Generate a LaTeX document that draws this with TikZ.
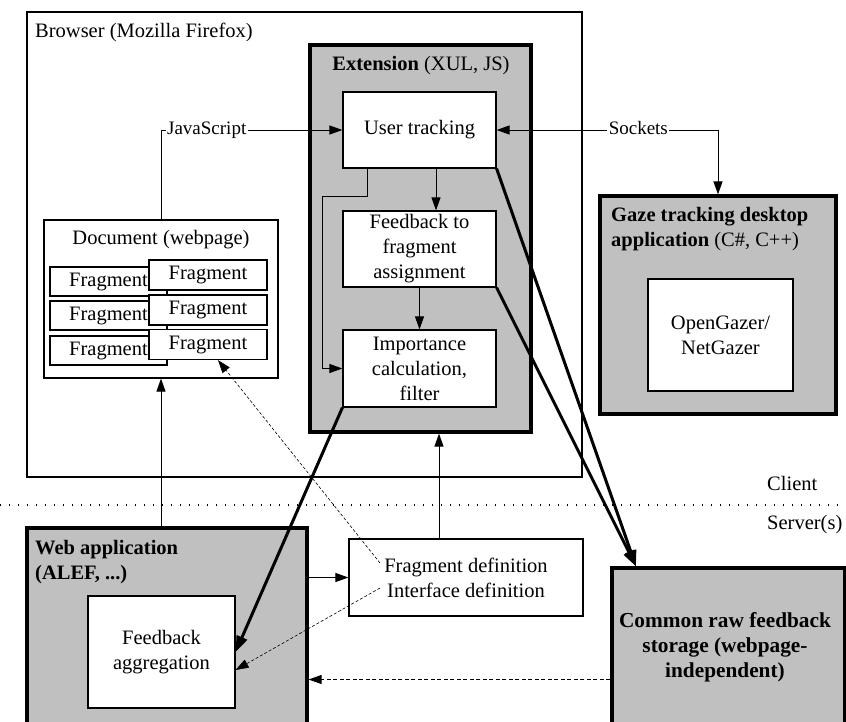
\documentclass[tikz,border=0pt]{standalone}
\usepackage{fontspec}
\setmainfont{Liberation Serif}
\usetikzlibrary{arrows.meta,calc}
\definecolor{boxgray}{HTML}{C0C0C0}
\tikzset{
  base/.style={font=\fontsize{20.5}{25}\selectfont, inner sep=0pt, align=center},
  thinbox/.style={base, draw, line width=1.2pt, fill=white},
  group/.style={base, draw, line width=3.2pt, fill=boxgray},
  conn/.style={line width=1pt, -{Triangle[length=13pt,width=9pt]}},
  dconn/.style={line width=0.8pt, dash pattern=on 4pt off 2.5pt, -{Triangle[length=13pt,width=9pt]}},
  heavy/.style={line width=3pt, -{Triangle[length=16pt,width=11pt]}},
  tag/.style={base, fill=white, inner sep=1.5pt, font=\fontsize{19}{23}\selectfont},
}
\begin{document}
\begin{tikzpicture}[x=1pt, y=-1pt]
  \clip (0,0) rectangle (846,721);
  \fill[white] (0,0) rectangle (846,721);

  % client / server separator
  \draw[line width=1.2pt, dash pattern=on 1.2pt off 7.8pt] (0,505) -- (846,505);
  \node[base, anchor=west] (client) at (767,483) {Client};
  \node[base, anchor=west] (server) at (767,525) {Server(s)};

  % browser frame
  \node[base, draw, line width=1.2pt, minimum width=555pt, minimum height=465pt] (browser) at (304.5,244.5) {};
  \node[base, anchor=west] (browserlbl) at (35,32) {Browser (Mozilla Firefox)};

  % extension
  \node[group, minimum width=221pt, minimum height=387pt] (ext) at (420.5,238.5) {};
  \node[base] (extlbl) at (421,66) {\textbf{Extension} (XUL, JS)};
  \node[thinbox, minimum width=153pt, minimum height=76pt] (ut) at (419.5,130) {User tracking};
  \node[thinbox, minimum width=153pt, minimum height=76pt] (fb) at (419.5,249) {Feedback to\\fragment\\assignment};
  \node[thinbox, minimum width=153pt, minimum height=77pt] (imp) at (419.5,368.5) {Importance\\calculation,\\filter};

  % document with fragments
  \node[thinbox, minimum width=234pt, minimum height=158pt] (doc) at (161,299) {};
  \node[base] (doclbl) at (161,240) {Document (webpage)};
  \node[thinbox, minimum width=117pt, minimum height=29pt] (fl1) at (108.5,281.5) {Fragment};
  \node[thinbox, minimum width=117pt, minimum height=29pt] (fl2) at (108.5,315.5) {Fragment};
  \node[thinbox, minimum width=117pt, minimum height=29pt] (fl3) at (108.5,350.5) {Fragment};
  \node[thinbox, minimum width=118pt, minimum height=30pt] (fr1) at (208,275) {Fragment};
  \node[thinbox, minimum width=118pt, minimum height=30pt] (fr2) at (208,310) {Fragment};
  \node[thinbox, minimum width=118pt, minimum height=30pt] (fr3) at (208,344.5) {Fragment};

  % gaze tracking application
  \node[group, minimum width=236pt, minimum height=218pt] (gaze) at (718,305) {};
  \node[base, anchor=west, align=left] (gazelbl) at (611,229.5) {\textbf{Gaze tracking desktop}\\\textbf{application} (C\#, C++)};
  \node[thinbox, minimum width=145pt, minimum height=112pt] (og) at (720.5,335) {OpenGazer/\\NetGazer};

  % server side
  \node[group, minimum width=280pt, minimum height=207pt] (web) at (167,631.5) {};
  \node[base, anchor=west, align=left] (weblbl) at (35,562.5) {\textbf{Web application}\\\textbf{(ALEF, ...)}};
  \node[thinbox, minimum width=147pt, minimum height=112pt] (fa) at (161.5,652) {Feedback\\aggregation};
  \node[thinbox, minimum width=234pt, minimum height=77pt] (fd) at (466,577.5) {Fragment definition\\Interface definition};
  \node[group, minimum width=233pt, minimum height=167pt] (store) at (728.5,651.5) {};
  \node[base, font=\fontsize{21.3}{25}\selectfont] (storelbl) at (725,647) {\textbf{Common raw feedback}\\\textbf{storage (webpage-}\\\textbf{independent)}};

  % connectors inside the client
  \draw[conn] (doc.north) |- node[tag, pos=0.626] {JavaScript} (ut.west);
  \draw[conn, {Triangle[length=13pt,width=9pt]}-{Triangle[length=13pt,width=9pt]}]
    (ut.east) -| node[tag, pos=0.32, yshift=2pt] {Sockets} (gaze.north);
  \draw[conn] ([xshift=16.5pt]ut.south) -- ([xshift=16.5pt]ut.south |- fb.north);
  \draw[conn] (fb.south) -- (imp.north);
  \draw[conn] ([xshift=-52.5pt]ut.south) -- ++(0,28) -| ($(imp.west)+(-20,0)$) -- (imp.west);

  % connectors between client and server
  \draw[conn] (doc.south |- web.north) -- (doc.south);
  \draw[conn] ([xshift=-27pt]fd.north) -- ([xshift=-27pt]fd.north |- ext.south);
  \draw[conn] (fd.west -| web.east) -- (fd.west);
  \draw[dconn] ([yshift=-28pt]store.west) -- ([yshift=-28pt]store.west -| web.east);
  \coordinate (fdA) at (380,563);
  \coordinate (fdB) at (380,588);
  \draw[dconn, line width=0.6pt, dash pattern=on 3pt off 2pt] (fdA) -- ([xshift=10pt]fr3.south);
  \draw[dconn, line width=0.6pt, dash pattern=on 3pt off 2pt] (fdB) -- ([yshift=-18pt]fa.east);
  \draw[heavy] (imp.south west) -- (fa.east);
  \draw[heavy] (ut.south east) -- ([xshift=-92.5pt]store.north);
  \draw[heavy] (fb.south east) -- ([xshift=-92.5pt]store.north);
\end{tikzpicture}
\end{document}
